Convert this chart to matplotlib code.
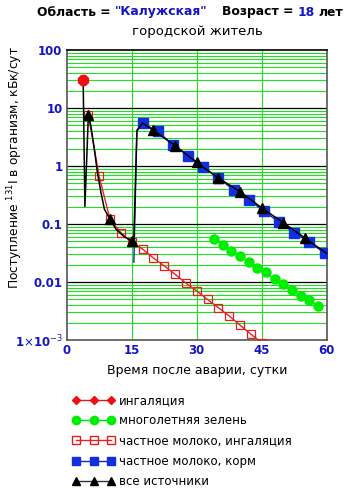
import matplotlib
matplotlib.use("Agg")
import matplotlib.pyplot as plt
from matplotlib.lines import Line2D
import numpy as np

plt.rcParams['font.family'] = ['DejaVu Sans']

# ---- data ----
inh_x = [3.8]
inh_y = [30.0]

green_x = [34, 36, 38, 40, 42, 44, 46, 48, 50, 52, 54, 56, 58]
green_y = [0.056, 0.044, 0.034, 0.028, 0.0225, 0.0177, 0.0146, 0.0112,
           0.0094, 0.0073, 0.0058, 0.0048, 0.0038]

milk_inh_x = [5, 7.5, 10, 12.5, 15, 17.5, 20, 22.5, 25, 27.5, 30, 32.5,
              35, 37.5, 40, 42.5, 45]
milk_inh_y = [7.5, 0.66, 0.12, 0.071, 0.049, 0.037, 0.026, 0.019, 0.0136,
              0.0096, 0.0070, 0.0050, 0.0036, 0.0026, 0.0018, 0.00126, 0.0009]

milk_feed_x = [15.5, 16.2, 17.5, 21, 24.5, 28, 31.5, 35, 38.5, 42, 45.5,
               49, 52.5, 56, 59.5]
milk_feed_y = [0.022, 4.0, 5.5, 3.95, 2.33, 1.51, 0.96, 0.62, 0.39, 0.26,
               0.167, 0.108, 0.071, 0.048, 0.032]

all_x = [3.8, 4.2, 4.6, 5, 5.6, 6.4, 7.1, 7.9, 8.7, 10, 11.4, 13.3, 15,
         15.5, 16.2, 17.5, 20, 25, 30, 35, 40, 45, 50, 55, 60]
all_y = [30, 0.2, 1.2, 7.6, 4.8, 1.9, 0.76, 0.35, 0.18, 0.12, 0.081, 0.060,
         0.051, 0.06, 4.1, 5.5, 4.1, 2.25, 1.15, 0.62, 0.36, 0.19, 0.105,
         0.057, 0.031]
all_mark_days = [5, 10, 15, 20, 25, 30, 35, 40, 45, 50, 55]

x_ticks = [0, 15, 30, 45, 60]
y_ticks = [1e-3, 0.01, 0.1, 1, 10, 100]
y_ticklabels = [r'1$\times$10$^{-3}$', '0.01', '0.1', '1', '10', '100']

legend_labels = ['ингаляция', 'многолетняя зелень', 'частное молоко, ингаляция',
                 'частное молоко, корм', 'все источники']

title_parts = ['Область = ', '"Калужская"', 'Возраст = ', '18', 'лет']

# ---- figure ----
W, H = 348, 495
fig = plt.figure(figsize=(W / 100, H / 100), dpi=100)
ax = fig.add_axes([66.7 / W, 1 - 340 / H, 260 / W, 290 / H])

ax.set_yscale('log')
ax.set_xlim(0, 60)
ax.set_ylim(1e-3, 100)

# grid
for d in range(-3, 2):
    for m in range(2, 10):
        ax.axhline(m * 10.0 ** d, color='#22dd22', lw=0.8, zorder=0)
for d in y_ticks[1:-1]:
    ax.axhline(d, color='black', lw=0.9, zorder=0.5)
for xv in x_ticks[1:-1]:
    ax.axvline(xv, color='#22dd22', lw=0.8, zorder=0)

BLUE = '#1515c8'
# series
ax.plot(green_x, green_y, color='#00dd00', lw=1, marker='o', ms=6.5,
        mfc='#00ee00', mec='#00ee00', zorder=3)
ax.plot(milk_inh_x, milk_inh_y, color='#ee2020', lw=1, marker='s', ms=6,
        mfc='none', mec='#dd2020', mew=0.9, zorder=3)
ax.plot(milk_feed_x, milk_feed_y, color='#2020a0', lw=1, marker='s', ms=7,
        mfc='#1030e0', mec='#1030e0', markevery=list(range(2, len(milk_feed_x))),
        zorder=4)
mark_idx = [all_x.index(d) for d in all_mark_days]
ax.plot(all_x, all_y, color='black', lw=1.1, marker='^', ms=6.5,
        mfc='black', mec='black', markevery=mark_idx, zorder=5)
ax.plot(inh_x, inh_y, color='#ee1010', lw=1, marker='8', ms=8,
        mfc='#ee1010', mec='#ee1010', zorder=6)

# axes styling
for s in ax.spines.values():
    s.set_color('#555555')
    s.set_linewidth(1.2)
ax.spines['top'].set_color('black')
ax.set_xticks(x_ticks)
ax.set_xticklabels([str(v) for v in x_ticks])
ax.set_yticks(y_ticks)
ax.set_yticklabels(y_ticklabels)
ax.minorticks_off()
ax.tick_params(length=0, pad=3, labelsize=8.5, labelcolor=BLUE)
for lab in ax.get_xticklabels() + ax.get_yticklabels():
    lab.set_fontweight('bold')

fig.text(15 / W, 1 - 168 / H, r'Поступление $^{131}$I в организм, кБк/сут',
         fontsize=8.8, rotation=90, ha='center', va='center')
ax.set_xlabel('Время после аварии, сутки', fontsize=9, labelpad=5)

# titles (placed sequentially)
renderer = fig.canvas.get_renderer()
ty = 1 - 12 / H
colors = ['black', BLUE, 'black', BLUE, 'black']
gaps = [0, 0, 15, 0, 3]
xpos = 37
for part, col, gap in zip(title_parts, colors, gaps):
    xpos += gap
    t = fig.text(xpos / W, ty, part, fontsize=8.9, fontweight='bold',
                 color=col, va='center', ha='left')
    bb = t.get_window_extent(renderer)
    xpos += bb.width
fig.text(197 / W, 1 - 32 / H, 'городской житель', fontsize=9.5, ha='center',
         va='center')

# legend
handles = [
    Line2D([], [], color='#ee1010', lw=1, marker='D', ms=4.5, mfc='#ee1010',
           mec='#ee1010'),
    Line2D([], [], color='#00dd00', lw=1, marker='o', ms=6, mfc='#00ee00',
           mec='#00ee00'),
    Line2D([], [], color='#ee2020', lw=1, marker='s', ms=6, mfc='none',
           mec='#dd2020'),
    Line2D([], [], color='#2020a0', lw=1, marker='s', ms=6, mfc='#1030e0',
           mec='#1030e0'),
    Line2D([], [], color='#333333', lw=1, marker='^', ms=6, mfc='black',
           mec='black'),
]
fig.legend(handles, legend_labels, loc='upper left',
           bbox_to_anchor=(67 / W, 1 - 388 / H), frameon=False, numpoints=3,
           fontsize=8.5, handlelength=3.5, handletextpad=0.4,
           labelspacing=0.62, borderpad=0)

fig.savefig('out.png', dpi=100)
